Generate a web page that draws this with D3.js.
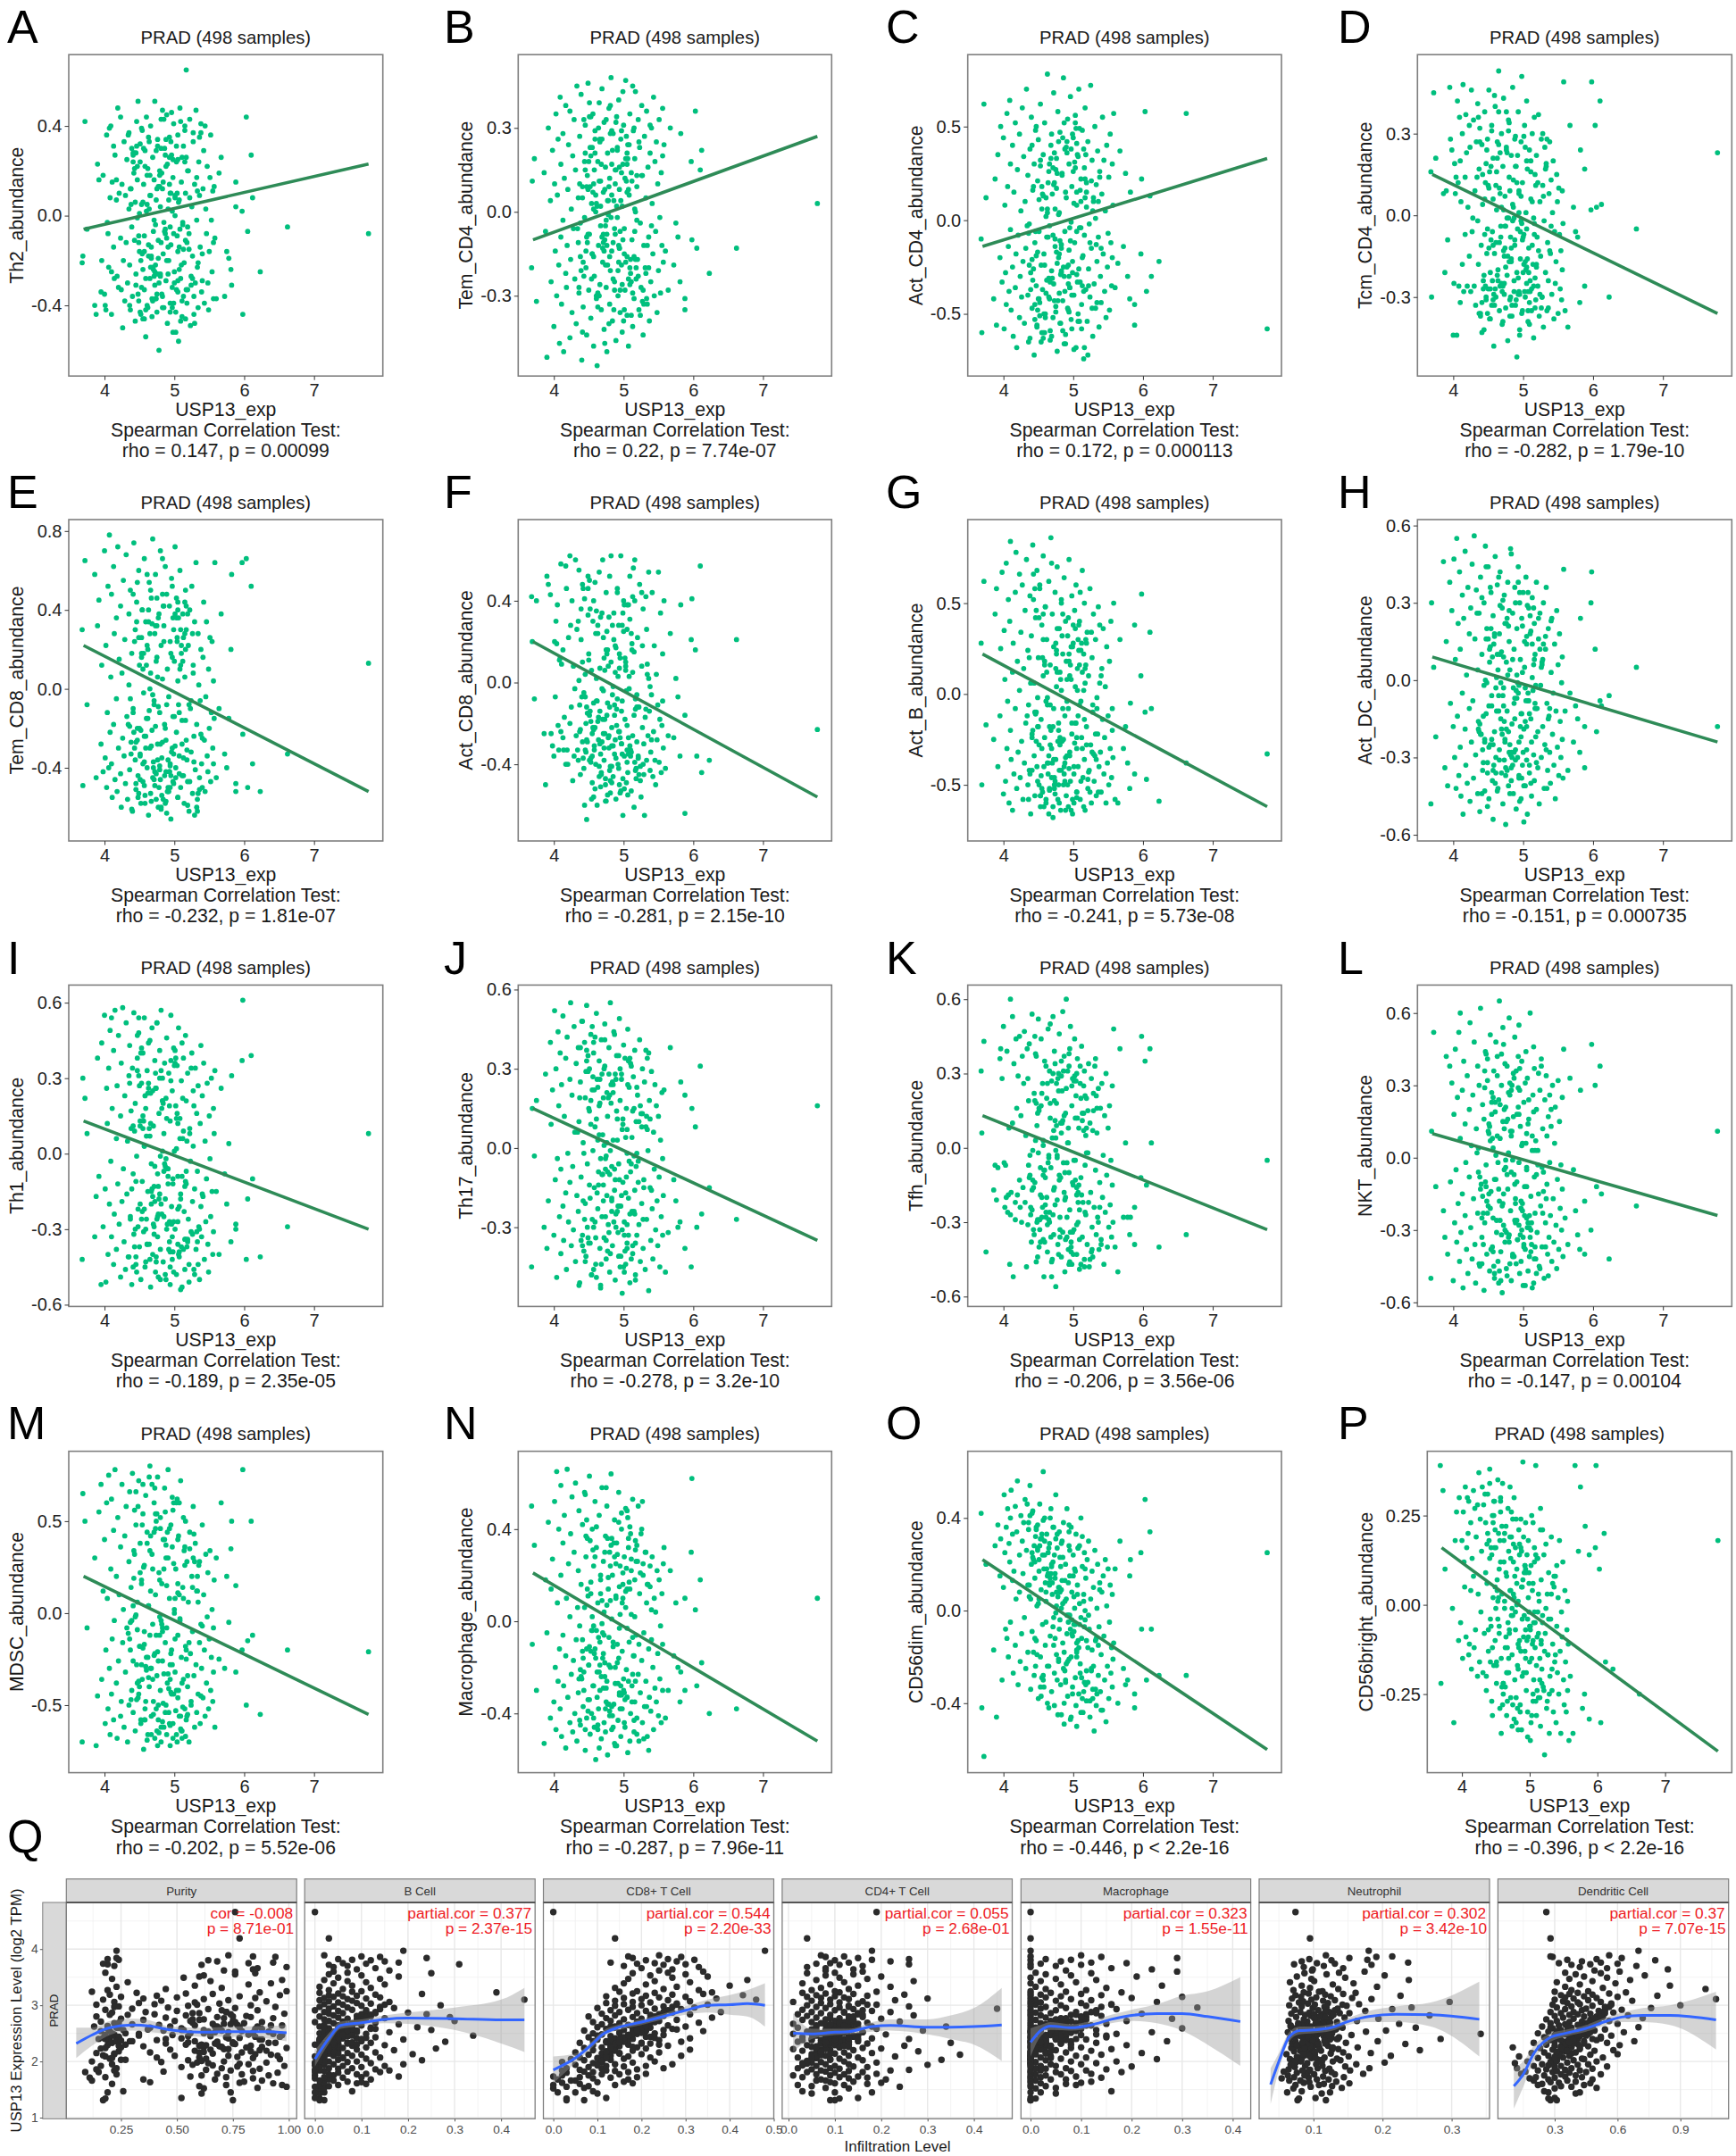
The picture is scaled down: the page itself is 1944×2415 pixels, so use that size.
<!DOCTYPE html>
<html><head><meta charset="utf-8"><title>PRAD USP13</title>
<script src="https://cdn.jsdelivr.net/npm/d3@7/dist/d3.min.js"></script>
<style>html,body{margin:0;padding:0;background:#fff}svg{display:block}text{font-family:"Liberation Sans",Arial,sans-serif}</style>
</head><body><div id="chart"></div>
<script>
// ---- USP13 expression, x of panels A-P (values x100) ----
const usp13X=[368,369,372,375,386,388,390,392,395,396,398,400,401,402,403,404,405,406,407,408,
409,410,410,411,413,413,414,415,417,417,418,419,420,421,423,423,424,425,426,427,
428,429,430,431,432,433,435,435,436,437,438,439,440,441,442,444,444,445,446,447,
448,449,450,451,452,453,454,455,456,457,457,458,459,460,461,462,463,464,465,466,
466,467,468,469,470,471,472,472,473,474,475,476,477,478,479,480,480,481,482,483,
484,485,486,487,488,488,489,490,491,492,493,494,494,495,496,497,498,498,499,500,
501,502,503,504,505,505,506,507,508,509,510,511,512,513,514,515,516,516,517,518,
519,520,521,522,523,524,525,526,527,528,529,530,531,532,533,534,535,536,537,538,
539,540,541,542,543,544,545,546,547,548,549,550,551,552,553,554,555,556,556,557,
558,560,564,567,572,575,578,581,582,588,588,597,598,603,605,610,612,623,662,778,
443,447,451,455,459,463,467,471,475,479,483,487,491,495,499,503,507,511,515,519,
441,445,449,453,457,461,465,469,473,477,481,485,489,493,497,501,505,509,513,517,
470,456,492,503,447,481,515,462,498,526,438,474,508,485,452,533,468,495,521,443,
478,501,459,487,512,434,466,493,529,449,476,505,482,454,538,471,497,518,441,463,
488,510,455,475,524,445,499,483,532,460,472,506,436,490,516,451,477,502,465,540,
484,448,511,473,494,527,457,480,504,439,469,519,486,453,496,534,464,509,479,442,
491,513,458,476,522,446,500,467,536,483,450,507,474,489,517,461,528,437,494,505];
const yTh2=[-21,-18,42,-6,-40,-44,23,16,-34,-20,18,-35,-40,-42,36,-3,-8,-23,39,8,
40,-44,-25,15,-14,31,-28,27,16,7,-27,48,-32,10,-10,44,-33,14,-50,-20,
33,-38,9,-12,25,-30,3,37,-22,-42,12,-5,-36,28,19,-47,6,-26,31,-1,
51,-38,-16,24,-44,5,38,-24,14,-9,-33,29,-54,2,-40,21,-18,33,-28,9,
40,-14,-37,26,-7,16,-31,51,-22,7,-43,34,-11,-60,20,-26,4,43,-35,12,
-17,-41,30,-6,-29,22,45,-48,3,-20,35,-39,10,-13,27,-32,-52,17,41,-25,
0,-43,24,-9,36,-16,-56,7,48,-28,15,-38,-4,31,-21,40,-46,10,26,-12,
-33,20,-8,43,-49,-27,4,-18,33,-36,14,-30,47,-2,-23,-41,24,9,-14,37,
-34,-17,12,29,-39,40,3,-8,22,-30,-42,-16,17,36,-2,-25,11,-37,-12,13,
-10,-37,19,26,-36,-16,-19,-24,-31,4,15,2,-44,44,-7,27,8,-25,-5,-8,
-11,22,-43,6,-28,35,-19,-2,-35,18,47,-8,-26,10,-39,31,-14,-45,24,-5,
27,-31,-12,39,-46,5,18,-23,-37,13,30,-3,-20,26,-41,8,-29,42,-15,65,
-24,30,7,-33,16,-12,38,-41,25,-28,5,-37,-6,43,-20,11,-45,33,-15,21,
-30,9,-42,27,-3,36,-23,14,-48,-9,31,-34,19,-17,41,-27,2,-39,24,-13,
34,-22,-46,12,-31,28,-8,-36,17,44,-25,6,-40,23,-11,32,-19,-52,9,-29,
15,-35,26,-4,-43,37,-16,-27,10,30,-38,20,-7,-32,46,-21,3,-47,13,28,
-14,-36,22,-26,8,42,-30,-18,35,-41,1,-24,29,-10,-33,18,-44,12,-5,25];
const yTemCD4=[-20,11,19,-32,14,-7,-52,30,4,-25,22,-41,10,-14,35,-30,6,26,-19,-47,
41,-9,17,-33,-3,28,-50,12,-22,38,-27,-12,8,24,-45,36,-17,1,-36,20,
-6,33,-24,15,-40,45,-11,5,-29,27,-16,42,-53,9,-34,18,-2,31,-20,-44,
13,46,-28,-8,23,-38,3,-15,35,-48,10,-23,29,0,-31,-55,18,-12,39,-26,
25,-5,-35,44,-18,7,-42,32,-10,16,-27,-50,21,-1,37,-33,12,-21,48,-14,
-39,28,4,-25,15,-8,-46,34,22,-30,40,-13,8,-36,26,-19,2,-43,17,31,
-6,-28,47,11,-37,-16,24,-48,6,35,-22,14,-10,-41,29,-31,19,1,43,-24,
9,-17,33,-35,23,-4,-27,38,13,-44,-12,27,-20,5,36,-33,16,-9,-39,21,
-25,30,3,-15,41,-30,18,-7,25,-36,10,-21,33,-2,-29,14,-12,20,37,-18,
24,-14,-28,30,-19,-4,-9,-25,28,-31,-35,18,-10,36,-13,15,22,-22,-13,3,
-23,9,39,-15,26,-34,2,-11,33,-40,17,-6,23,-28,43,-18,8,-37,30,-3,
-43,21,-8,34,-16,-30,11,26,-47,4,38,-24,15,-12,29,-35,7,-20,45,0,
-13,7,-21,19,-9,28,-16,2,-26,13,-4,-19,24,-11,9,-31,17,-7,-23,33,
4,-15,21,-28,11,-6,26,-18,-33,8,-12,17,-2,-24,31,-8,14,-20,5,-29,
10,-17,23,-3,-37,15,-10,29,-22,6,-14,19,-27,2,-7,34,-19,12,-30,-5,
22,-11,-25,8,16,-32,1,-16,27,-21,-9,13,-35,20,4,-12,30,-26,9,-18,
-2,-29,15,-8,25,-14,-39,11,-20,6,18,-24,-5,32,-17,3,-28,10,-13,21];
const yActCD4=[-10,-60,62,12,-42,22,-56,35,-20,50,-33,44,-58,8,-28,-45,57,18,-14,-38,
64,-5,30,-48,-25,40,-62,15,-36,52,-18,-68,27,-8,-52,46,-30,5,-41,60,
-22,34,-55,10,-15,70,-40,24,-65,-2,38,-28,55,-47,16,-72,30,-12,48,-35,
-57,21,43,-6,-44,62,-24,6,-37,35,-60,-18,52,-50,12,-32,78,-9,26,-42,
-3,-64,40,-27,14,-52,68,-34,20,-10,-46,33,-70,58,-20,4,-39,47,-55,-13,
24,-43,76,-30,-6,38,-61,12,-25,54,-48,-16,30,-36,66,-1,-58,18,-22,44,
-40,-12,56,-68,8,-29,35,-50,70,-4,-33,22,-45,48,-19,-74,28,-8,60,-37,
15,-54,42,-26,-2,-41,72,-15,32,-62,10,-34,50,-47,19,-22,37,-9,-57,26,
-30,-44,14,55,-18,32,-38,5,-52,40,-25,-7,23,-48,46,-12,-35,30,-20,8,
57,-36,-23,37,-14,25,-30,-42,15,-45,-56,-18,22,58,-38,13,-30,-22,57,-58,
-26,50,-42,18,-60,6,-33,28,-49,42,-15,-66,36,-4,-28,52,-54,10,-38,20,
40,-53,-17,32,-63,2,-31,46,-43,25,-11,-59,15,-24,38,-69,-6,49,-35,12,
-31,14,-47,28,-19,-55,38,-9,-40,21,-63,6,-26,44,-51,-13,33,-36,-72,18,
-43,9,-24,52,-58,-3,30,-34,12,-48,-17,41,-29,-65,23,-8,-53,35,-21,4,
-38,16,-60,27,-12,-45,46,-27,1,-52,19,-33,-7,39,-68,11,-23,31,-41,-15,
25,-56,-4,36,-30,-47,13,-18,49,-37,-62,7,-25,29,-11,-44,20,-54,3,-32,
42,-20,-50,17,-35,-6,26,-59,10,-28,-42,34,-14,-66,22,-39,5,-24,-49,15];
const yTcmCD4=[16,-30,45,21,8,-21,9,-9,47,28,24,-44,-25,19,8,14,-44,42,12,-26,
36,20,-32,5,30,-18,48,-28,14,-7,37,23,-26,3,33,-15,25,-28,46,-6,
-1,35,-26,9,-33,27,-2,41,-18,17,32,-36,-11,26,4,-42,-22,38,12,-30,
24,-5,-27,46,16,-38,-9,33,-24,6,21,-48,-14,40,-30,2,27,-20,53,-35,
10,-26,-4,30,-40,18,-13,43,-29,7,-34,25,-1,-46,35,-17,14,-31,-8,22,
-37,47,3,-24,28,-11,-33,18,-52,-5,38,-28,9,-42,-16,27,-36,51,12,-21,
-7,33,-30,1,-25,42,17,-39,-12,24,-28,6,-35,30,-18,-45,36,-3,15,-31,
22,-8,-26,37,-37,5,-15,28,-30,11,-41,-2,25,-21,18,-35,-10,-24,8,27,
-14,13,-29,1,20,-38,-6,-25,-17,15,5,-36,10,-7,-27,-13,-31,9,-20,-3,
49,-35,-41,33,3,-6,-8,-32,24,17,-26,2,49,33,3,42,4,-30,-5,23,
-27,19,-12,-33,44,-22,8,-39,-4,31,-16,-28,12,-44,-9,25,-35,16,-1,-19,
-43,-7,28,-21,-31,11,38,-25,-15,23,-37,-2,29,-29,7,-18,20,-40,-11,-34,
-28,-6,22,-17,-31,9,-26,16,-3,-34,27,-12,-21,4,-38,19,-8,-29,12,-24,
-15,29,-33,-1,-27,14,-10,-23,7,-36,24,-5,-30,18,-13,-26,-2,11,-32,21,
-9,-24,31,-19,-29,6,-35,-12,17,-27,2,-16,36,-31,-7,10,-22,-28,26,-4,
-33,-14,20,-25,8,-30,-11,34,-20,-37,3,-18,13,-27,-6,28,-24,-32,-1,15,
-21,5,-29,38,-13,-26,-8,23,-34,-17,11,-28,-4,18,-23,-10,30,-36,1,-19];
const yTemCD8=[30,-49,65,-8,58,-45,32,45,-28,12,-42,70,-35,22,-50,-12,52,-40,78,-22,
6,-38,48,-55,-18,62,28,-46,-5,36,-52,72,-30,15,-43,42,-60,8,-25,55,
-34,25,-48,68,-14,-56,38,2,-41,50,-27,18,-62,-10,74,-36,30,-51,44,-20,
-44,60,12,-33,-58,26,40,-47,-2,66,-24,-54,34,-15,-40,20,-64,54,-30,8,
-53,46,-21,76,-37,-8,28,-49,58,-43,16,-28,-60,38,-12,70,-46,22,-35,5,
-56,32,-18,62,-42,-26,48,10,-52,-4,42,-38,24,-66,56,-30,-14,36,-48,14,
72,-40,-22,26,-55,44,-8,-34,60,-50,18,-28,38,-44,-58,6,50,-16,30,-36,
-47,22,-62,40,-10,-32,52,-53,12,-24,34,-41,64,-18,-56,28,2,-45,-6,20,
-38,-50,16,44,-26,-52,-4,34,-34,-42,10,-20,26,-47,-12,24,-30,4,-38,-15,
64,-45,-10,38,-33,-40,-15,20,58,-52,-48,64,-23,66,-50,52,-38,-52,-33,13,
-30,54,-46,10,-24,40,-57,-6,32,-39,66,-20,-50,18,-33,46,-12,-44,28,-59,
48,-27,-53,16,-37,58,0,-45,-19,36,-61,24,-8,-42,52,-29,-55,12,-35,42,
-40,18,-52,36,-26,-60,44,-15,-47,28,-33,-56,10,42,-21,-62,33,-44,-8,24,
-50,38,-30,-58,14,-18,50,-42,-64,26,-36,4,-54,40,-23,-46,16,-31,-12,34,
-57,22,-38,46,-6,-48,30,-27,-60,12,-42,36,-19,-52,20,-34,-9,-45,28,-25,
42,-55,-16,32,-39,8,-49,-28,24,-61,-3,38,-44,18,-32,-53,-11,30,-41,-22,
-36,26,-58,6,-47,34,-14,-29,-51,48,-20,-43,14,-63,-26,22,-37,-5,-50,40];
const yActCD8=[42,20,-8,40,-25,-50,52,48,43,-25,-31,-36,20,-7,30,19,38,-21,-33,11,
12,58,-24,9,16,-27,-33,-17,-40,57,46,-33,-40,22,-20,62,28,-12,40,-48,
8,-36,-3,60,-26,26,-38,30,55,-11,-45,21,-7,-29,46,-60,41,4,-34,-67,
-29,52,14,-16,36,-37,6,-49,-22,40,-10,-33,49,-40,2,-60,24,-28,54,-14,
-30,32,-45,-3,60,-25,12,-38,-18,-50,44,25,-55,8,-32,-12,52,-41,62,-22,
-6,-46,34,-35,18,-28,-57,-13,46,3,-42,14,-24,-54,62,-30,28,-9,-65,40,
-36,-18,6,-49,26,-21,-44,38,-3,52,-33,-53,16,-26,56,-16,-39,60,-8,-47,
-29,22,-36,-12,48,-41,-56,8,-22,36,-30,-65,-17,42,-38,4,-26,54,-14,-43,
-34,-6,44,-46,-24,18,-38,-50,4,-28,-11,54,-39,-18,34,-44,-21,-9,14,-32,
40,-42,-26,24,-27,2,-7,-36,38,-16,-64,21,41,16,-36,57,-44,-38,21,-23,
-42,-12,50,-36,-22,28,-51,-4,-58,32,-31,-16,44,-27,-47,10,-35,24,-61,-6,
10,-33,46,-19,-56,-9,-41,34,-25,16,-48,-2,-37,28,-14,-52,38,-31,5,-43,
-18,30,-40,8,-28,-54,15,-9,-35,44,-23,-47,3,-31,-14,26,-44,12,-37,-5,
-27,38,-52,-11,19,-33,7,-24,-45,33,-16,-39,10,-57,-2,22,-30,-42,48,-19,
5,-36,-25,16,-48,-7,34,-41,-13,24,-32,-55,1,-21,40,-38,-10,12,-46,-28,
28,-15,-34,6,-50,18,-23,-43,-4,36,-29,-12,21,-39,-53,9,-17,31,-26,-37,
-8,42,-31,14,-45,-20,25,-35,2,-49,11,-27,-58,17,-13,35,-40,-24,7,-33];
const yActB=[28,-50,62,-17,-25,44,58,-40,-12,25,67,-55,35,8,-48,72,-30,-4,52,-60,
40,-20,84,-36,12,-64,28,-44,56,-8,78,-52,18,-32,66,2,-46,34,-26,60,
-58,14,-38,46,-16,74,-50,24,-6,-42,54,-66,32,-22,82,-34,6,-56,42,-10,
68,-48,20,-28,58,-62,-14,38,-54,10,76,-40,-24,48,-60,30,-2,-44,62,-18,
-52,16,86,-30,44,-68,-8,26,-46,56,-36,4,70,-58,-20,36,-42,12,-64,50,
-26,22,-50,64,-12,-38,40,-56,-4,32,-62,18,74,-34,-48,8,54,-22,-66,28,
-44,46,-16,60,-54,-30,14,-40,38,-6,-58,24,-24,68,-46,2,-36,50,-64,16,
-18,34,-52,10,-42,58,-28,-60,20,-10,44,-48,-34,30,-56,-2,-22,48,-40,6,
-32,-54,14,-14,36,-44,-24,4,-60,26,-38,-12,-50,18,-30,40,-46,-8,-20,-35,
50,-58,-60,30,-30,-18,-38,-52,-5,38,-44,10,55,-10,-47,34,-8,-59,-38,-33,
66,-26,42,-52,18,-38,-6,-62,28,-16,52,-44,8,-32,-58,36,-12,-48,22,-28,
-42,58,-18,-56,30,-4,-34,72,-50,12,-24,44,-64,-8,26,-40,-54,16,-30,6,
-38,20,-50,4,46,-28,-62,12,-16,34,-44,-55,24,-8,60,-36,-20,10,-47,52,
-26,-60,16,-40,28,-12,-53,42,-33,-2,22,-57,8,-45,38,-18,-64,30,-24,-6,
-48,56,-30,14,-54,-10,26,-42,-22,48,-36,2,-58,18,-14,-50,36,-27,-66,10,
32,-40,-4,-52,22,-32,44,-60,-16,6,-46,28,-25,-56,16,-8,-38,40,-50,-20,
-34,12,-62,24,-43,-11,38,-28,-54,2,-18,30,-48,-35,14,-58,-6,20,-41,-24];
const yActDC=[-48,30,5,-22,46,-34,15,-41,38,-9,27,-18,47,-30,8,-42,55,-14,22,-37,
42,-26,12,-45,33,-5,-52,24,-19,50,-33,2,-40,36,-11,18,-47,28,-24,45,
-8,-38,56,16,-29,35,-44,4,-16,26,-51,40,-21,10,-35,30,-2,-43,52,-13,
20,-32,44,-46,7,-25,34,-10,-39,25,-54,14,-20,48,-30,1,37,-42,-6,18,
-27,42,-15,-36,28,-48,9,-3,33,-23,-56,22,-12,38,-41,15,-28,4,51,-34,
-17,26,-44,12,-7,36,-31,-50,20,-1,44,-24,-38,30,8,-46,-13,24,-33,34,
-19,5,-41,40,-27,14,-52,-8,28,-36,18,-15,-45,32,-4,-29,22,-39,10,-22,
38,-11,-34,16,-48,26,-2,-30,7,-18,30,-42,-25,12,36,-9,-35,20,-14,-28,
-40,3,24,-21,-5,-33,14,-46,-12,27,-26,6,-37,18,-16,-30,-1,-23,9,-38,
43,-12,-35,-5,-24,-10,-15,-28,24,-18,-34,30,42,12,-20,-8,-10,-6,5,-18,
-32,44,-10,-23,17,-43,29,-6,-37,-20,49,-28,2,-47,21,-16,34,-40,6,-11,
32,-24,-49,13,-35,-3,40,-19,-31,24,-44,8,-27,38,-13,-55,17,-33,1,-9,
-21,9,-30,-3,16,-25,28,-12,-38,5,-17,22,-8,-33,12,-27,-1,34,-20,-14,
2,-41,18,-9,-24,26,-31,-5,14,-36,7,-18,-29,20,-11,31,-22,-2,-44,10,
-15,25,-6,-34,12,-23,3,-28,17,-40,-10,29,-19,-4,8,-26,-35,15,-12,23,
-30,-1,19,-16,-37,6,-25,27,-8,-21,11,-32,-3,36,-18,-42,4,-13,21,-27,
-7,14,-33,-19,24,0,-28,10,-15,-39,16,-5,-24,30,-11,-36,8,-20,-2,-31];
const yTh1=[-42,30,22,8,-33,-17,38,-9,-52,44,-29,55,-14,-51,26,12,-40,34,-20,49,
-3,54,-33,18,-44,41,-24,57,6,-38,27,-12,47,-28,-49,15,36,-19,58,-6,
-35,23,-46,52,-16,5,31,-41,43,-25,10,-52,34,-8,56,-30,20,-44,-1,38,
-22,48,-37,13,-50,28,-11,40,-31,3,54,-45,18,-26,33,-15,44,-36,7,-53,
24,-20,50,-40,11,-29,37,-5,-47,26,52,-33,-13,16,41,-38,-1,57,-24,30,
-43,8,36,-18,-50,22,46,-28,-6,32,-35,13,-45,55,-21,25,-12,-39,42,1,
-30,19,-48,35,-9,-27,50,-41,14,-16,29,-53,6,38,-23,-34,47,-11,21,-37,
32,-26,-44,10,-3,-31,40,-19,25,-46,-14,34,-38,16,-7,27,-29,-50,12,-21,
-33,23,-17,36,-42,5,-27,-10,28,-36,-47,15,-2,-25,30,-15,-40,18,-31,8,
33,-15,-40,26,-8,-20,4,-35,31,-30,-28,37,61,-42,-18,39,-10,-41,-29,8,
-37,47,-20,10,-43,28,-4,-32,52,-16,21,-48,-9,37,-27,14,-39,44,-13,-34,
11,-41,54,-26,3,-36,45,-17,26,-49,33,-7,-30,19,-42,41,-22,-54,9,-12,
-28,13,-38,2,33,-20,-46,24,-10,-32,17,-43,6,-25,40,-35,-14,29,-51,9,
-18,36,-30,-5,22,-41,12,-27,-48,31,-8,-36,18,-23,43,-13,-33,5,-45,26,
-2,-37,15,-26,34,-11,-47,21,-31,7,-19,-40,28,-6,-34,11,-24,38,-42,-16,
20,-29,-9,32,-39,3,-22,-50,16,-14,25,-35,-4,42,-28,-44,10,-18,30,-32,
-12,-38,23,-25,8,-47,35,-15,-30,1,27,-21,-41,14,-7,-36,19,-26,-52,12];
const yTh17=[-45,15,-3,18,-30,28,-38,-20,40,9,22,-33,52,-12,30,-49,-4,44,16,-26,
36,-8,-40,24,-22,50,-35,12,34,-17,-46,42,-2,-28,26,-13,55,-37,20,-7,
-31,46,6,-43,32,-18,-24,38,10,-51,25,-11,48,-33,2,40,-27,19,-41,54,
-6,29,-36,14,-19,43,-48,22,-1,-30,36,-15,8,-44,51,26,-23,-9,33,-38,
17,-53,41,-26,5,-14,30,-34,47,-4,-42,21,12,-29,38,-47,-10,55,24,-20,
-37,3,44,-16,-50,28,-25,35,11,-32,-6,49,-41,18,-22,26,-55,7,-13,39,
-28,34,-44,15,-2,-36,45,-19,23,-51,-9,31,4,-40,27,-24,-16,37,-48,10,
-33,20,-5,-29,41,-43,13,-21,30,-38,-12,25,-46,8,-27,34,-1,-54,18,-15,
-35,29,-23,-42,6,-8,24,-31,16,-20,-37,12,-11,-45,3,-26,21,-33,-4,-18,
22,-47,-32,38,-12,-20,-30,-28,25,-38,20,-45,15,8,-30,31,-25,-15,-27,16,
-39,37,-14,46,-28,3,-52,19,-35,28,-7,43,-24,-45,11,-17,33,-42,-3,23,
48,-21,-34,9,40,-49,16,-10,31,-39,-1,24,-30,35,-18,-47,7,-25,14,-36,
-10,27,-22,4,33,-40,15,-17,-31,8,38,-26,-5,21,-36,12,-44,30,-13,-2,
19,-33,42,-8,-24,6,26,-41,-15,35,2,-29,17,-48,11,-20,28,-7,-37,23,
-12,32,-27,-3,16,-43,9,-19,37,-34,1,24,-52,14,-25,30,-9,-39,5,-16,
25,-30,-6,41,-22,13,-46,20,-11,-35,28,-2,-28,18,-41,7,-14,34,-32,-20,
3,-37,22,-18,10,29,-45,-4,36,-24,15,-33,-8,26,-50,11,-27,19,-12,-38];
const yTfh=[31,6,43,-42,-17,-7,-21,-8,36,40,28,49,-6,-24,-7,-20,39,-26,-19,8,
-47,60,-27,-18,10,53,-52,34,-22,-29,44,16,-19,29,45,-13,-24,13,-30,37,
-16,26,47,-22,5,-48,28,-31,19,42,-11,-24,-38,54,-1,22,-35,-14,38,-46,
9,-29,52,16,-33,-8,44,-20,26,-37,3,-52,35,-12,-26,20,-42,48,-4,31,
-30,12,-36,27,-45,53,-17,7,39,-23,-56,18,-3,-39,30,-13,46,-28,10,-44,
23,-34,-6,37,-21,-50,14,60,-28,2,-41,33,-10,-25,49,-38,17,-47,28,-15,
-33,44,-5,21,-43,-19,36,-30,8,-49,26,-12,41,-36,-22,14,-45,31,-7,-27,
20,-39,-2,34,-48,10,-18,28,-32,-44,15,-24,33,-9,-35,6,-28,24,-41,-14,
16,-37,26,-20,-3,-47,13,-26,30,-11,-40,8,-32,17,-23,-5,-36,25,-15,-30,
48,-40,-50,40,-28,2,-28,-35,-28,-39,-24,-12,45,35,-15,40,2,-40,-35,-5,
-16,37,-40,22,-9,-31,50,-27,4,-43,29,-18,-6,40,-34,12,-22,-47,25,-2,
-25,45,14,-38,-11,33,-29,-46,19,-4,-33,55,-20,8,-42,27,-16,-37,11,-26,
4,-24,31,-13,18,-36,7,-20,25,-42,-3,34,-15,11,-29,21,-8,-46,15,-33,
28,-5,-38,13,-19,40,-26,2,22,-44,9,-31,-12,17,-24,30,-40,5,-17,26,
-10,33,-28,-1,-45,19,-14,6,36,-23,-35,12,-7,24,-48,15,-21,29,-3,-39,
10,-30,20,-16,38,-41,1,-11,27,-27,-52,8,31,-19,-34,16,-6,-25,23,-13,
-36,14,-9,26,-22,3,-43,18,-30,35,-2,-18,11,-37,21,-28,7,-12,-47,30];
const yNKT=[-50,11,52,-12,-22,-33,42,-40,38,-10,31,-51,18,-27,45,-5,-35,25,-19,52,
-43,60,8,-31,28,-15,-54,40,-24,14,-2,-38,34,-48,20,-8,56,-29,5,-42,
26,-17,48,-36,-52,12,-23,38,-6,30,-45,62,-11,-33,22,-55,16,-27,44,-3,
-40,32,-20,10,-47,51,-14,27,-37,4,-25,36,-50,19,-9,-31,42,-43,24,65,
-18,8,-39,30,-56,15,-28,47,-5,-35,21,-46,38,-13,2,58,-32,26,-22,-51,
11,-41,35,-7,-26,50,-17,-44,18,-34,29,-2,55,-48,13,-21,40,-30,6,-53,
23,-12,-38,44,-25,-4,33,-47,16,-29,60,-16,-36,9,26,-52,-8,37,-23,-42,
20,-31,3,-15,-45,28,-20,41,-37,12,-6,-50,24,-27,34,-11,-40,17,-33,-2,
-24,13,-43,30,-17,-35,6,21,-28,-46,-9,32,-38,15,-21,-3,-30,25,-13,-41,
45,-25,-36,33,-5,-22,-32,-38,28,-40,-18,-30,47,30,-12,38,-15,-42,-20,11,
-36,43,-15,23,-48,9,-26,54,-4,-33,28,-41,-10,37,-19,-53,14,-30,46,-7,
-44,36,-23,7,-39,48,-13,-32,20,-49,31,-1,-27,42,-18,-37,10,-24,-54,3,
-20,8,-34,31,-12,-44,19,-26,5,38,-8,-30,24,-40,13,-17,-51,28,-3,-23,
16,-36,-9,33,-27,2,-47,21,-14,41,-31,-5,11,-38,26,-19,-43,7,-25,34,
-11,-33,18,-1,-46,29,-22,9,-37,23,-15,-29,4,36,-42,14,-7,-24,-52,20,
30,-18,-39,12,-28,-4,25,-35,6,-13,43,-48,17,-21,-32,9,-2,-41,27,-16,
-26,3,-45,15,35,-10,-33,22,-49,-6,11,-27,39,-19,-37,1,-23,-44,18,-12];
const yMDSC=[-70,65,50,-8,30,-72,-45,55,70,-36,12,40,-60,-20,60,8,-52,75,-30,-66,
24,-44,62,-14,-58,45,-4,78,-38,20,-68,52,-26,10,-56,36,-48,70,-16,2,
-62,42,-32,58,-8,-70,28,-50,66,-20,14,-42,76,-54,34,-2,-64,48,-28,6,
-46,72,-18,38,-60,18,-36,54,-74,26,-10,-52,64,-24,44,-66,4,-40,80,-30,
12,-56,32,-6,-48,60,-22,-68,46,-12,-34,74,-58,22,-2,-42,52,-70,16,-26,
40,-62,68,-16,-50,30,-8,-38,78,-54,8,-28,-72,48,-20,36,-60,56,-44,0,
-32,24,-66,62,-12,-46,42,-56,-4,72,-24,-64,14,-36,34,-52,50,-18,-58,28,
-40,6,-70,44,-22,-50,20,-10,58,-34,-62,38,-28,-54,12,-44,26,-16,-60,-6,
-30,48,-46,10,-20,-56,32,-38,-2,22,-52,-14,34,-42,-24,2,-48,-32,-8,18,
-62,30,-25,60,-30,20,-5,35,50,15,-32,-20,78,-50,-15,50,-12,-55,-20,-21,
56,-38,-18,70,-48,4,-30,44,-64,18,-8,-54,30,-22,60,-42,10,-68,26,-34,
-26,66,-44,16,-58,38,-12,-36,54,-50,-4,24,-66,46,-28,-14,40,-56,8,-20,
-55,25,-41,60,-9,-62,36,-24,-68,14,-47,50,-3,-33,-58,20,70,-43,-16,32,
-65,8,-29,55,-51,-11,42,-60,28,-37,-72,16,-6,48,-45,-23,63,-56,4,-35,
37,-64,-19,54,-48,-1,27,-59,12,-31,68,-42,-14,44,-67,22,-26,-53,34,-7,
-49,58,-38,10,-61,30,-17,46,-70,-4,24,-55,40,-28,-44,6,74,-63,-12,19,
-33,52,-58,-21,35,-47,2,-66,28,-10,-40,60,-52,15,-25,-69,43,-5,-36,11];
const yMacrophage=[50,-10,33,-30,-53,18,-5,43,-42,14,27,-35,52,-20,-47,65,8,-26,40,-12,
-38,59,20,-50,-6,34,-28,46,-15,-55,10,66,-33,25,-44,2,38,-23,54,-48,
-17,30,-40,60,-8,-52,22,-31,48,-2,-45,16,-25,42,-37,6,56,-56,28,-12,
36,-34,-19,63,-49,12,-4,40,-28,24,-42,-14,52,-60,32,-22,8,-38,46,-9,
-30,18,-51,58,-16,26,-44,4,-24,37,-35,50,-58,14,-7,-41,30,-20,64,-47,
20,-11,-36,44,-27,-54,10,34,-18,-43,56,-3,-32,24,-50,40,-13,-38,16,-25,
28,-46,6,-21,48,-33,-57,36,-9,14,-40,22,-28,53,-15,-48,2,-35,31,-6,
-42,26,-23,-52,12,-31,38,-17,-44,20,-5,-37,30,-26,8,-50,16,-12,-33,24,
-39,-8,28,-20,-47,10,-29,4,-35,22,-14,-41,18,-25,-2,-44,12,-30,-10,25,
32,-42,-30,22,-15,8,-20,-35,-22,10,-30,30,62,5,-28,18,-18,-40,-38,10,
-22,44,-34,-4,28,-47,12,-29,58,-19,36,-53,-10,-38,21,49,-26,3,-43,33,
-13,55,-39,17,-28,41,-55,-1,30,-36,9,-46,25,-16,47,-31,14,-52,-7,35,
-5,31,-27,13,-42,24,-15,-33,8,40,-21,-48,17,-9,35,-37,-24,3,50,-30,
19,-44,-12,28,-35,6,-19,43,-51,11,-26,-3,33,-40,15,-14,-32,26,-8,-45,
-20,38,2,-29,21,-47,10,-37,30,-16,-6,45,-25,-54,18,-11,36,-34,-22,5,
-41,14,27,-18,-31,52,-2,-39,23,-24,9,-49,34,-13,-28,16,-7,41,-36,-16,
29,-23,-46,7,-10,37,-30,20,-56,1,-19,32,-38,11,-26,-4,25,-43,15,-33];
const yCD56dim=[42,-42,-63,20,-17,28,-46,37,15,31,-30,10,50,25,-8,36,-12,44,-20,29,
21,40,-5,52,13,33,-27,17,45,-15,5,34,56,-32,24,8,-22,41,-10,30,
16,38,-3,48,-25,26,11,-18,35,6,54,-34,20,-9,43,28,-28,14,32,-13,
2,37,-38,22,46,-20,9,31,-6,60,-30,18,40,-15,4,33,-24,25,-42,12,
29,-11,44,-35,7,21,36,-3,-27,16,50,-19,27,-45,10,34,-8,23,-32,1,
30,-14,38,-40,13,-26,20,5,44,-37,-2,28,-21,15,-47,36,-10,8,-33,24,
-6,18,-29,33,-17,-50,11,27,-36,3,-23,40,-12,19,-44,7,25,-31,-4,14,
-39,22,-16,30,-8,-46,5,-25,17,-34,10,-52,26,-13,-41,1,20,-28,-7,12,
-35,-19,8,-43,15,-11,-30,22,-48,2,-24,18,-38,-5,11,-27,-16,7,-33,-21,
-14,18,-40,30,-25,-32,-30,15,22,-36,-42,25,-8,48,-30,34,-8,-28,-28,25,
-18,36,5,-29,24,-40,14,-7,31,-22,9,-49,-2,26,-36,17,-13,-44,4,-26,
42,-12,27,-33,39,8,-24,19,-41,33,-4,23,-31,12,-46,6,-18,28,-38,0,
12,24,-22,-6,35,8,-35,18,-4,-26,41,14,-16,3,28,-12,16,-2,-31,22,
6,-9,30,-18,-29,46,11,-5,-24,26,2,-14,19,-37,9,36,-20,-32,25,15,
4,-27,33,-1,-39,21,-11,29,-34,12,-15,7,38,-23,-7,17,-30,1,27,-43,
13,-19,-3,24,34,-17,-28,10,-41,5,20,-13,-25,31,-8,-36,16,-6,-21,23,
-10,32,-33,8,-2,-24,15,40,-15,-45,3,27,-12,-30,18,-5,-38,11,37,-20];
const yCD56bright=[39,-22,32,10,-1,-33,18,26,-10,30,-5,18,-15,26,12,5,33,-9,16,30,
20,-14,29,-11,23,4,-18,13,32,8,-12,27,-7,19,-20,28,3,37,-16,24,
-2,15,33,-19,28,-8,9,23,-24,6,31,-13,18,38,-4,14,-27,25,2,-17,
29,-10,16,-22,7,35,20,-6,-29,12,26,-15,3,34,-25,18,-1,-12,22,-31,
8,-19,27,15,-8,33,-26,4,19,-14,-3,12,30,-21,-7,24,-33,10,-17,1,
21,-10,-28,16,5,-35,-4,40,-19,9,-13,23,-7,-24,14,-30,2,18,-2,-16,
-38,11,25,-11,-27,6,-21,16,-5,39,-31,-9,13,-26,1,-15,21,-34,7,-18,
-3,-23,14,-42,-8,17,-29,3,-14,9,-36,-20,-4,19,-24,-11,-30,5,-16,8,
-33,-6,-19,2,-25,18,-13,-36,-2,-9,12,-21,-28,4,-16,-30,-7,1,-24,-11,
-38,-20,-36,39,15,33,-29,-25,22,14,-32,16,39,10,-33,20,-16,-18,-25,18,
-6,29,-17,10,-23,20,-12,4,-28,16,-35,24,-9,-19,6,-31,-2,13,-26,-5,
34,-12,21,-4,30,-22,9,-15,26,-32,0,17,-20,11,-37,-7,23,-27,3,-10,
-7,18,-3,-15,25,6,-21,12,-9,-27,20,-1,-12,14,4,-18,-5,9,-24,16,
8,-6,22,-13,-2,31,-19,11,-25,5,17,-10,-29,2,-14,19,-4,-22,13,1,
15,-17,-8,24,-1,-31,9,-11,3,-28,13,-5,-20,7,27,-16,2,-33,-9,11,
-12,16,-24,-3,10,-14,29,-26,4,-7,-19,21,-30,1,-10,6,-23,14,-2,-16,
19,-8,-36,3,-13,23,-6,-27,8,-18,-1,12,-34,5,-11,-22,-4,17,-15,-25];

// ---- Panels A-P text and fit ----
const panelLetters=["A","B","C","D","E","F","G","H","I","J","K","L","M","N","O","P"];
const yTitles=["Th2_abundance","Tem_CD4_abundance","Act_CD4_abundance","Tcm_CD4_abundance","Tem_CD8_abundance","Act_CD8_abundance","Act_B_abundance","Act_DC_abundance","Th1_abundance","Th17_abundance","Tfh_abundance","NKT_abundance","MDSC_abundance","Macrophage_abundance","CD56dim_abundance","CD56bright_abundance"];
const rhoTexts=["rho = 0.147, p = 0.00099","rho = 0.22, p = 7.74e-07","rho = 0.172, p = 0.000113","rho = -0.282, p = 1.79e-10","rho = -0.232, p = 1.81e-07","rho = -0.281, p = 2.15e-10","rho = -0.241, p = 5.73e-08","rho = -0.151, p = 0.000735","rho = -0.189, p = 2.35e-05","rho = -0.278, p = 3.2e-10","rho = -0.206, p = 3.56e-06","rho = -0.147, p = 0.00104","rho = -0.202, p = 5.52e-06","rho = -0.287, p = 7.96e-11","rho = -0.446, p < 2.2e-16","rho = -0.396, p < 2.2e-16"];
const ySeries=[yTh2,yTemCD4,yActCD4,yTcmCD4,yTemCD8,yActCD8,yActB,yActDC,yTh1,yTh17,yTfh,yNKT,yMDSC,yMacrophage,yCD56dim,yCD56bright];
const fitStart=[-.06,-.10,-.14,.15,.22,.20,.22,.09,.13,.15,.13,.10,.20,.21,.22,.16];
const fitEnd=[.23,.27,.33,-.36,-.52,-.56,-.62,-.24,-.30,-.35,-.33,-.24,-.55,-.52,-.60,-.41];
const fitX=[3.7,7.78];
const yTop=[.718,.562,.884,.590,.858,.797,.96,.623,.67,.617,.657,.716,.88,.738,.688,.43];
const yBottom=[-.715,-.587,-.832,-.590,-.771,-.775,-.809,-.624,-.607,-.60,-.64,-.617,-.867,-.657,-.70,-.47];
const yTickVals=[[-.4,0,.4],[-.3,0,.3],[-.5,0,.5],[-.3,0,.3],[-.4,0,.4,.8],[-.4,0,.4],[-.5,0,.5],[-.6,-.3,0,.3,.6],[-.6,-.3,0,.3,.6],[-.3,0,.3,.6],[-.6,-.3,0,.3,.6],[-.6,-.3,0,.3,.6],[-.5,0,.5],[-.4,0,.4],[-.4,0,.4],[-.25,0,.25]];
const xTickVals=[4,5,6,7];

// ---- Panel Q values (x100; Neutrophil x1000) ----
const qY=[131,131,134,135,143,145,145,147,152,153,155,156,158,158,160,161,162,163,164,166,
166,168,168,170,171,172,172,173,175,175,177,177,178,180,181,181,182,183,184,184,
185,186,187,188,188,190,191,192,192,194,195,195,197,198,199,200,200,202,203,204,
205,206,207,207,209,210,210,212,213,214,215,216,216,218,219,220,221,222,223,224,
225,225,227,228,229,230,231,232,233,233,235,236,236,238,239,240,241,241,243,244,
245,246,247,248,249,250,250,252,253,254,255,256,257,258,259,260,261,262,262,264,
265,266,267,268,269,270,271,272,272,274,275,276,277,278,279,280,281,282,283,284,
285,286,287,288,288,290,291,292,293,294,295,296,297,298,299,300,301,302,303,304,
305,306,307,308,309,310,311,312,313,314,315,316,317,318,319,320,321,322,323,324,
325,327,329,331,333,335,337,339,341,343,345,347,349,351,353,355,357,358,360,362,
228,232,236,240,244,248,252,256,260,264,234,238,242,246,250,254,258,262,226,230,
364,366,368,370,372,373,374,375,376,378,380,381,382,384,386,387,389,397,419,466,
214,262,238,251,229,275,243,206,268,233,256,221,284,247,198,239,265,226,252,291,
235,218,272,244,259,211,280,230,249,203,267,241,225,256,288,236,216,262,246,196,
253,228,277,240,210,264,232,297,248,222,258,205,270,237,245,219,283,227,254,201,
242,266,213,250,274,231,260,208,286,239,224,255,193,269,247,217,279,234,263,301];
const qPurity=[17,75,18,52,61,74,19,26,62,86,99,60,97,72,21,93,78,38,80,88,
12,35,67,84,11,72,18,56,91,61,79,23,68,95,9,15,44,84,22,74,
63,14,87,70,23,52,77,98,16,57,82,21,64,90,43,12,71,55,27,96,
20,84,60,41,18,73,49,92,22,66,14,79,38,24,58,87,47,71,16,99,
25,62,35,83,19,54,76,45,94,21,68,29,58,41,88,15,73,52,24,96,
65,18,48,82,33,27,56,73,91,20,44,62,37,85,52,24,78,13,67,97,
42,30,71,22,57,88,16,49,75,35,62,25,93,45,68,14,81,54,28,40,
98,60,21,72,36,50,86,18,64,30,76,46,94,24,55,83,14,40,69,33,
58,22,90,43,73,17,62,35,85,50,25,78,41,96,20,66,54,32,87,12,
99,19,45,70,23,58,82,92,28,65,97,21,53,60,62,76,85,18,76,71,
60,75,30,45,85,22,67,52,38,92,55,20,78,33,62,16,88,47,70,27,
84,86,99,22,61,19,17,82,93,68,64,24,19,23,94,84,73,23,78,76,
22,68,19,84,63,57,72,21,80,91,26,65,74,18,59,23,77,88,62,70,
20,83,56,24,69,17,75,61,93,25,66,19,81,53,72,23,60,86,21,78,
64,24,71,18,95,58,67,22,82,73,19,63,76,25,55,90,20,69,79,61,
17,74,85,21,60,68,23,77,57,87,18,70,66,24,97,62,83,75,19,59];
const qBCell=[1,2,1,0,1,2,0,8,1,2,0,3,5,1,11,9,2,10,7,4,
1,12,3,0,6,10,2,18,0,4,9,3,11,5,14,0,7,2,16,1,
0,13,5,8,3,10,1,6,15,2,19,4,12,0,7,3,9,23,5,1,
11,2,6,14,0,8,4,10,21,3,7,1,13,5,2,17,9,4,26,6,
1,11,3,8,15,0,5,2,12,7,28,3,10,4,19,1,6,9,13,2,
7,34,3,5,11,1,8,16,4,2,9,25,6,12,3,7,22,1,5,10,
2,18,8,4,13,0,6,30,3,10,2,7,15,5,29,1,9,4,12,24,
3,6,20,2,11,5,0,8,14,3,17,7,1,4,10,27,6,2,12,9,
5,16,3,8,1,45,7,11,2,14,4,6,9,3,13,23,5,1,39,8,
10,3,6,12,1,8,15,4,11,7,2,14,5,18,10,3,25,7,4,16,
4,7,1,10,3,6,9,2,12,5,8,1,11,4,6,3,13,7,2,9,
9,13,4,7,3,31,11,6,18,15,12,8,5,24,14,10,2,19,3,0,
5,7,3,6,4,9,2,6,8,4,5,3,10,7,2,4,8,5,6,11,
3,4,9,6,7,2,12,5,3,1,8,4,3,7,13,5,2,6,8,0,
6,3,11,5,2,7,4,14,6,3,8,1,9,5,7,3,12,4,6,1,
5,8,2,6,10,4,7,1,13,5,3,7,0,9,6,2,11,4,8,15];
const qCD8=[3,7,3,12,10,1,5,9,0,7,3,8,14,0,6,18,2,10,16,5,
4,17,1,9,13,6,19,0,8,2,15,11,21,3,9,17,7,14,2,12,
6,19,11,3,25,8,16,12,21,5,14,27,9,18,2,11,23,7,13,4,
16,10,22,6,17,13,29,8,20,11,15,5,24,12,18,9,31,14,21,7,
11,19,15,26,9,17,13,22,6,20,29,12,16,24,10,18,14,31,8,21,
13,17,25,11,19,9,23,15,20,34,7,16,28,12,18,22,10,30,14,26,
17,11,21,15,33,9,19,24,13,28,16,20,12,36,18,8,25,14,22,31,
11,19,27,15,38,21,13,17,29,23,10,32,18,25,14,20,35,16,28,12,
22,18,31,14,26,46,20,37,16,24,30,12,21,43,27,34,18,23,36,15,
19,33,25,14,28,40,21,16,31,23,44,17,27,35,22,30,18,26,34,24,
13,20,9,16,22,11,18,25,14,19,12,17,23,10,15,21,27,13,18,24,
27,20,33,16,25,30,19,23,13,28,21,32,26,18,29,17,24,48,14,0,
15,18,13,20,14,22,16,12,19,15,21,13,24,17,11,15,20,14,18,26,
16,13,22,17,19,12,23,14,18,11,20,16,13,19,25,15,13,21,17,10,
19,14,22,16,12,21,15,27,18,13,20,11,23,16,17,14,24,13,19,11,
16,21,12,18,23,14,20,12,25,15,13,19,10,22,17,12,24,15,21,28];
const qCD4=[10,9,11,15,5,10,18,3,13,8,24,5,2,12,17,10,20,9,14,6,
8,21,7,13,17,3,11,15,9,1,12,6,19,10,4,16,8,13,22,7,
26,5,11,9,2,17,14,6,10,30,8,13,3,19,7,12,4,16,33,9,
11,6,15,2,23,8,13,37,5,10,18,7,12,28,3,14,9,1,20,16,
6,11,8,25,4,13,9,17,35,7,2,12,15,5,10,26,8,18,3,13,
14,6,9,21,1,11,7,16,4,12,29,8,5,19,10,2,15,34,6,13,
9,12,1,7,17,5,24,10,14,3,8,20,11,6,16,13,4,27,9,2,
15,7,12,22,5,18,10,3,14,45,8,11,6,26,13,4,19,9,15,7,
11,1,16,5,23,9,13,30,7,12,4,10,17,6,25,14,8,3,11,19,
10,5,13,7,22,15,9,3,12,27,6,17,11,20,8,14,4,10,16,8,
12,7,10,5,14,9,16,8,11,6,13,3,10,15,7,12,9,18,5,11,
14,8,4,16,11,26,6,9,13,22,10,18,26,15,8,12,7,18,4,19,
9,11,7,12,10,13,8,6,14,9,11,7,15,10,5,12,8,13,9,16,
11,6,13,8,12,7,14,10,5,9,15,8,11,6,12,13,7,10,14,4,
8,12,9,15,6,11,7,13,10,8,14,5,12,9,11,7,16,6,10,4,
13,9,7,11,14,8,12,5,15,10,6,13,3,11,9,7,14,8,12,17];
const qMacro=[0,0,1,0,5,2,0,16,1,5,0,3,9,0,7,2,10,0,12,1,
0,4,7,0,14,2,0,9,3,0,6,1,12,0,18,5,0,8,2,11,
0,15,3,1,7,0,20,5,2,0,10,4,13,0,1,8,17,3,0,25,
6,0,11,2,4,0,9,14,1,0,22,3,7,0,12,5,2,16,0,8,
1,10,0,4,19,2,0,6,13,3,0,27,8,1,11,0,5,2,15,0,
7,3,10,0,17,1,4,24,0,9,2,13,6,0,30,1,8,3,0,12,
5,0,15,2,7,0,10,4,19,1,0,28,6,3,11,0,14,2,8,0,
22,4,1,9,0,13,5,0,17,2,7,33,3,0,11,6,1,16,0,10,
2,25,0,5,12,1,8,0,20,3,30,6,0,14,2,10,0,4,18,7,
0,11,3,15,1,26,6,0,9,2,13,5,0,21,8,3,12,1,29,7,
1,6,0,9,3,13,0,5,2,11,0,7,3,15,1,0,10,4,0,8,
24,16,0,5,10,0,2,19,12,6,0,8,3,29,14,0,10,0,0,0,
3,6,1,8,2,5,0,4,9,3,7,1,11,4,0,2,6,3,5,13,
1,4,8,2,6,0,10,3,1,0,7,5,2,4,12,3,0,9,6,0,
4,2,7,3,0,5,1,14,6,2,8,0,10,3,5,1,9,4,2,0,
6,3,1,7,11,2,4,0,13,5,1,8,0,6,3,0,10,2,7,16];
const qNeutro=[77,118,79,103,112,124,62,83,71,141,96,127,108,74,115,152,86,94,133,65,
81,105,122,54,93,72,144,114,87,63,131,101,172,76,92,126,57,117,84,153,
95,64,123,106,181,73,146,88,113,67,162,104,91,203,75,128,82,139,107,66,
134,97,116,78,151,212,85,102,61,125,183,94,143,72,111,254,89,136,109,68,
98,164,76,121,83,103,233,69,147,92,119,74,193,86,124,284,101,66,137,95,
115,73,155,82,342,104,127,63,176,98,205,87,132,113,71,248,93,141,67,106,
122,84,224,78,109,134,91,163,64,118,86,194,103,145,75,126,96,268,88,112,
68,152,94,123,81,175,107,73,214,135,99,242,116,83,148,65,102,166,92,121,
79,297,85,114,131,97,184,69,156,104,82,125,226,74,117,143,93,161,86,108,
113,71,136,95,192,83,128,158,66,101,238,97,146,76,203,119,87,137,174,98,
84,117,93,135,73,106,122,81,142,67,104,95,126,77,111,89,133,92,108,76,
99,143,86,115,184,72,131,105,237,83,126,178,94,152,191,214,118,180,95,74,
98,107,89,118,92,123,84,103,114,96,86,127,101,79,112,93,106,88,121,131,
94,83,115,102,126,87,109,97,74,113,103,91,128,82,117,105,89,96,122,71,
112,86,101,134,94,78,107,119,88,99,125,83,104,116,92,81,129,95,108,73,
103,114,85,97,121,90,106,76,138,99,87,111,68,124,93,102,117,84,109,142];
const qDend=[28,31,27,30,40,27,42,25,30,50,38,33,22,44,24,47,32,28,40,20,
36,27,48,18,30,43,21,35,25,40,33,52,14,37,29,45,16,31,22,42,
35,26,48,12,38,30,55,20,33,41,24,46,11,36,28,50,17,39,31,44,
43,22,34,53,13,37,27,47,60,31,19,40,25,35,49,58,29,42,33,23,
10,38,46,30,61,26,41,36,55,20,34,44,68,28,39,48,31,52,25,37,
42,57,30,35,46,22,40,63,27,36,49,33,54,43,29,38,70,24,45,32,
41,35,60,28,50,37,43,56,31,47,26,39,72,34,53,44,30,65,37,41,
47,33,58,39,28,51,43,62,35,45,76,31,54,38,48,90,29,42,57,36,
41,52,34,67,46,30,107,39,50,35,60,44,79,33,48,37,56,41,64,30,
46,38,102,53,35,85,42,59,31,48,66,37,55,44,73,40,52,35,61,49,
36,44,30,41,52,33,47,38,28,43,35,50,26,45,39,31,48,36,42,34,
84,55,42,69,38,47,60,32,52,43,78,36,50,62,29,28,56,70,28,26,
38,43,33,46,36,49,41,31,45,37,42,35,52,40,30,38,47,34,44,54,
39,33,48,41,44,32,50,37,42,29,46,38,34,43,53,36,31,45,40,28,
41,35,49,38,32,47,39,56,43,34,46,30,51,37,40,36,52,33,44,31,
38,46,32,42,50,35,48,30,54,39,33,45,27,49,41,31,52,37,47,57];

// ---- Panel Q fitted curves: x, y, lower, upper ----
const fitPurity={x:[.05,.12,.2,.3,.38,.47,.6,.75,.9,.99],y:[2.32,2.47,2.60,2.65,2.63,2.56,2.52,2.53,2.53,2.51],lo:[2.06,2.28,2.47,2.55,2.52,2.49,2.44,2.44,2.41,2.36],hi:[2.60,2.60,2.72,2.76,2.73,2.62,2.60,2.62,2.63,2.65]};
const fitBCell={x:[0,.03,.055,.1,.15,.2,.3,.4,.45],y:[2.04,2.41,2.64,2.69,2.75,2.77,2.76,2.74,2.74],lo:[1.91,2.32,2.58,2.63,2.68,2.67,2.56,2.32,2.17],hi:[2.2,2.5,2.71,2.75,2.82,2.87,2.96,3.1,3.31]};
const fitCD8={x:[0,.05,.09,.11,.15,.2,.25,.3,.35,.4,.44,.48],y:[1.85,2.06,2.32,2.47,2.61,2.70,2.80,2.91,3.0,3.01,3.03,3.0],lo:[1.61,1.97,2.26,2.42,2.56,2.65,2.75,2.83,2.87,2.83,2.8,2.62],hi:[2.09,2.14,2.38,2.53,2.66,2.75,2.85,2.98,3.1,3.18,3.27,3.39]};
const fitCD4={x:[.01,.05,.1,.13,.18,.22,.3,.35,.4,.46],y:[2.5,2.49,2.52,2.53,2.62,2.64,2.61,2.61,2.62,2.65],lo:[2.17,2.4,2.47,2.48,2.53,2.55,2.48,2.4,2.3,2.01],hi:[2.86,2.58,2.58,2.58,2.7,2.75,2.75,2.82,2.95,3.31]};
const fitMacro={x:[0,.02,.04,.08,.12,.16,.2,.25,.3,.35,.415],y:[2.34,2.55,2.63,2.6,2.65,2.75,2.82,2.85,2.85,2.8,2.71],lo:[2.09,2.45,2.56,2.55,2.59,2.68,2.72,2.68,2.55,2.3,1.92],hi:[2.59,2.65,2.7,2.66,2.72,2.83,2.92,3.02,3.17,3.25,3.5]};
const fitNeutro={x:[.038,.05,.065,.08,.1,.125,.15,.18,.22,.27,.34],y:[1.59,2.0,2.44,2.55,2.56,2.6,2.71,2.8,2.84,2.83,2.75],lo:[1.24,1.85,2.36,2.48,2.5,2.54,2.65,2.7,2.7,2.62,2.09],hi:[1.88,2.15,2.52,2.62,2.62,2.66,2.77,2.9,2.98,3.05,3.42]};
const fitDend={x:[.105,.15,.2,.28,.35,.45,.55,.62,.72,.85,1.07],y:[1.56,1.77,2.14,2.43,2.5,2.59,2.72,2.79,2.82,2.82,2.74],lo:[1.16,1.55,2.0,2.35,2.44,2.53,2.65,2.7,2.7,2.65,2.21],hi:[1.88,2.0,2.28,2.5,2.56,2.65,2.79,2.87,2.95,3.0,3.24]};
const qFacets=["Purity","B Cell","CD8+ T Cell","CD4+ T Cell","Macrophage","Neutrophil","Dendritic Cell"];
const qCorText=["cor = -0.008","partial.cor = 0.377","partial.cor = 0.544","partial.cor = 0.055","partial.cor = 0.323","partial.cor = 0.302","partial.cor = 0.37"];
const qPText=["p = 8.71e-01","p = 2.37e-15","p = 2.20e-33","p = 2.68e-01","p = 1.55e-11","p = 3.42e-10","p = 7.07e-15"];
const qXVals=[qPurity,qBCell,qCD8,qCD4,qMacro,qNeutro,qDend];
const qXUnit=[100,100,100,100,100,1000,100];
const qFits=[fitPurity,fitBCell,fitCD8,fitCD4,fitMacro,fitNeutro,fitDend];
const qXTicks=[[.25,.5,.75,1],[0,.1,.2,.3,.4],[0,.1,.2,.3,.4,.5],[0,.1,.2,.3,.4],[0,.1,.2,.3,.4],[.1,.2,.3],[.3,.6,.9]];
const qXFmt=[".2f",".1f",".1f",".1f",".1f",".1f",".1f"];
const qXDomain=[[.0057,1.035],[-.022,.473],[-.0225,.5],[-.0137,.4827],[-.019,.4357],[.0214,.3548],[.029,1.13]];
const qYTicks=[1,2,3,4];

// ---- Layout ----
const colLeft=[77,580.3,1083.7,1587.3], colRight=[428.7,931.3,1435,1939.3];
const rowTop=[61.2,582,1103.4,1625.6], plotH=360;
const letterX=[8,497,992,1498], letterY=[48,569,1091,1612];
const qLeft=[74.3,341.2,608.5,875.9,1143.3,1410,1677.4], qRight=[332.2,599.2,866.5,1133.5,1400.6,1668,1935.7];
const qStripTop=2104.7,qTop=2131,qBottom=2373.3;

const svg=d3.select("#chart").append("svg").attr("width",1944).attr("height",2415).attr("viewBox","0 0 1944 2415");
svg.append("rect").attr("width",1944).attr("height",2415).attr("fill","#fff");
const dash=s=>s.replace("\u2212","-");

panelLetters.forEach((L,i)=>{
  const c=i%4,r=Math.floor(i/4);
  const left=(L==="P")?1598.3:colLeft[c],right=colRight[c],top=rowTop[r],bottom=top+plotH;
  const g=svg.append("g").attr("class","panel-"+L);
  const x=d3.scaleLinear().domain([3.488,7.985]).range([left,right]);
  const y=d3.scaleLinear().domain([yBottom[i],yTop[i]]).range([bottom,top]);
  g.append("text").attr("x",letterX[c]).attr("y",letterY[r]).attr("font-size",52).attr("fill","#000").text(L);
  const cx=(left+right)/2;
  g.append("text").attr("x",cx).attr("y",top-12.5).attr("text-anchor","middle").attr("font-size",20.3).attr("fill","#1a1a1a").text("PRAD (498 samples)");
  g.selectAll("circle").data(d3.zip(usp13X,ySeries[i])).join("circle")
    .attr("cx",d=>x(d[0]/100)).attr("cy",d=>y(d[1]/100)).attr("r",2.9).attr("fill","#00bf7d");
  const lineGen=d3.line().x(d=>x(d[0])).y(d=>y(d[1]));
  g.append("path").attr("d",lineGen(d3.zip(fitX,[fitStart[i],fitEnd[i]]))).attr("fill","none").attr("stroke","#2e8b57").attr("stroke-width",3.6);
  g.append("rect").attr("x",left).attr("y",top).attr("width",right-left).attr("height",plotH).attr("fill","none").attr("stroke","#7f7f7f").attr("stroke-width",1.6);
  const ax=g.append("g").attr("transform",`translate(0,${bottom})`).call(d3.axisBottom(x).tickValues(xTickVals).tickSize(4.5).tickPadding(4).tickFormat(d3.format("d")));
  const digits=L==="P"?".2f":".1f";
  const ay=g.append("g").attr("transform",`translate(${left},0)`).call(d3.axisLeft(y).tickValues(yTickVals[i]).tickSize(4.5).tickPadding(3).tickFormat(v=>dash(d3.format(digits)(v))));
  [ax,ay].forEach(a=>{a.select(".domain").remove();a.selectAll("line").attr("stroke","#333");a.selectAll("text").attr("font-size",20).attr("fill","#222").style("font-family",'"Liberation Sans"');});
  const titleGap=L==="P"?61.6:51;
  g.append("text").attr("transform",`translate(${left-titleGap},${(top+bottom)/2}) rotate(-90)`).attr("text-anchor","middle").attr("font-size",21.2).attr("fill","#1a1a1a").text(yTitles[i]);
  [["USP13_exp",44.5],["Spearman Correlation Test:",67.5],[rhoTexts[i],91]].forEach(t=>{
    g.append("text").attr("x",cx).attr("y",bottom+t[1]).attr("text-anchor","middle").attr("font-size",21.2).attr("fill","#1a1a1a").text(t[0]);
  });
});

// ---- Panel Q ----
svg.append("text").attr("x",8).attr("y",2075).attr("font-size",52).attr("fill","#000").text("Q");
svg.append("text").attr("transform",`translate(24,2252) rotate(-90)`).attr("text-anchor","middle").attr("font-size",16.8).attr("fill","#1a1a1a").text("USP13 Expression Level (log2 TPM)");
svg.append("text").attr("x",1005).attr("y",2410).attr("text-anchor","middle").attr("font-size",17).attr("fill","#1a1a1a").text("Infiltration Level");
svg.append("rect").attr("x",47.8).attr("y",qTop).attr("width",26.5).attr("height",qBottom-qTop).attr("fill","#d9d9d9").attr("stroke","#7f7f7f").attr("stroke-width",1);
svg.append("text").attr("transform",`translate(65,${(qTop+qBottom)/2}) rotate(-90)`).attr("text-anchor","middle").attr("font-size",13.3).attr("fill","#1a1a1a").text("PRAD");
const qYScale=d3.scaleLinear().domain([1,4.83]).range([2372,qTop]);
const yAxisG=svg.append("g").attr("transform","translate(47.8,0)").call(d3.axisLeft(qYScale).tickValues(qYTicks).tickSize(3).tickPadding(2).tickFormat(d3.format("d")));
yAxisG.select(".domain").remove();
yAxisG.selectAll("line").attr("stroke","#555");
yAxisG.selectAll("text").attr("font-size",14).attr("fill","#4d4d4d").style("font-family",'"Liberation Sans"');

qFacets.forEach((name,i)=>{
  const left=qLeft[i],right=qRight[i];
  const g=svg.append("g").attr("class","facet-"+i);
  const x=d3.scaleLinear().domain(qXDomain[i]).range([left,right]);
  const y=qYScale;
  const t=qXTicks[i],step=t[1]-t[0];
  const xMinor=d3.range(t.length+1).map(k=>t[0]+(k-.5)*step).filter(v=>v>qXDomain[i][0]&&v<qXDomain[i][1]);
  const yMinor=[1.5,2.5,3.5,4.5];
  g.selectAll("line.xm").data(xMinor).join("line").attr("class","xm").attr("x1",x).attr("x2",x).attr("y1",qTop).attr("y2",qBottom).attr("stroke","#f0f0f0").attr("stroke-width",.8);
  g.selectAll("line.ym").data(yMinor).join("line").attr("class","ym").attr("y1",y).attr("y2",y).attr("x1",left).attr("x2",right).attr("stroke","#f0f0f0").attr("stroke-width",.8);
  g.selectAll("line.xM").data(t).join("line").attr("class","xM").attr("x1",x).attr("x2",x).attr("y1",qTop).attr("y2",qBottom).attr("stroke","#e8e8e8").attr("stroke-width",1.4);
  g.selectAll("line.yM").data(qYTicks).join("line").attr("class","yM").attr("y1",y).attr("y2",y).attr("x1",left).attr("x2",right).attr("stroke","#e8e8e8").attr("stroke-width",1.4);
  g.selectAll("circle").data(d3.zip(qXVals[i],qY)).join("circle").attr("cx",d=>x(d[0]/qXUnit[i])).attr("cy",d=>y(d[1]/100)).attr("r",3.7).attr("fill","#2b2b2b");
  const fit=qFits[i];
  const rows=fit.x.map((v,k)=>({x:v,y:fit.y[k],lo:fit.lo[k],hi:fit.hi[k]}));
  g.append("path").attr("d",d3.area().curve(d3.curveMonotoneX).x(d=>x(d.x)).y0(d=>y(d.lo)).y1(d=>y(d.hi))(rows)).attr("fill","#999").attr("fill-opacity",.42);
  g.append("path").attr("d",d3.line().curve(d3.curveMonotoneX).x(d=>x(d.x)).y(d=>y(d.y))(rows)).attr("fill","none").attr("stroke","#3366ff").attr("stroke-width",3);
  g.append("rect").attr("x",left).attr("y",qTop).attr("width",right-left).attr("height",qBottom-qTop).attr("fill","none").attr("stroke","#7f7f7f").attr("stroke-width",1.3);
  g.append("rect").attr("x",left).attr("y",qStripTop).attr("width",right-left).attr("height",qTop-qStripTop).attr("fill","#d9d9d9").attr("stroke","#7f7f7f").attr("stroke-width",1.2);
  g.append("line").attr("x1",left).attr("x2",right).attr("y1",qTop).attr("y2",qTop).attr("stroke","#555").attr("stroke-width",2);
  g.append("text").attr("x",(left+right)/2).attr("y",2122.6).attr("text-anchor","middle").attr("font-size",13.3).attr("fill","#333").text(name);
  g.append("text").attr("x",right-4).attr("y",2149.3).attr("text-anchor","end").attr("font-size",17.3).attr("fill","#ee1c25").text(qCorText[i]);
  g.append("text").attr("x",right-3).attr("y",2165.7).attr("text-anchor","end").attr("font-size",17.3).attr("fill","#ee1c25").text(qPText[i]);
  const ax=g.append("g").attr("transform",`translate(0,${qBottom})`).call(d3.axisBottom(x).tickValues(t).tickSize(3).tickPadding(4).tickFormat(d3.format(qXFmt[i])));
  ax.select(".domain").remove();
  ax.selectAll("line").attr("stroke","#555");
  ax.selectAll("text").attr("font-size",13.6).attr("fill","#4d4d4d").style("font-family",'"Liberation Sans"');
});
</script></body></html>
